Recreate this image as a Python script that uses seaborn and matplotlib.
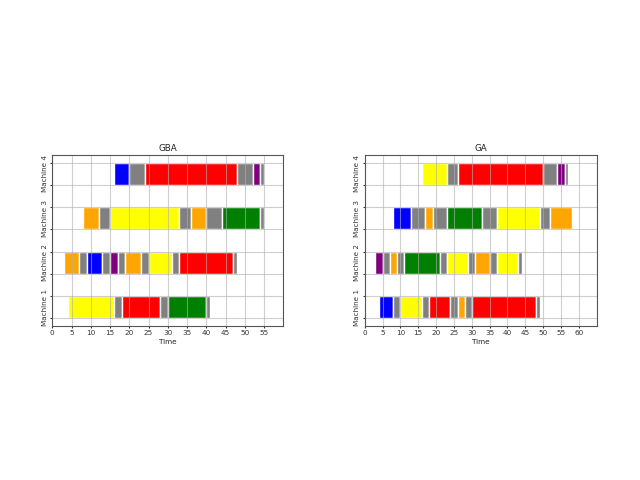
import matplotlib
matplotlib.use("Agg")
import matplotlib.pyplot as plt
import seaborn as sns

# job -> colour ("S" = setup time)
job_colors = {"J1": "blue", "J2": "red", "J3": "purple", "J4": "orange",
              "J5": "yellow", "J6": "green", "S": "gray"}

machines = ["Machine 1", "Machine 2", "Machine 3", "Machine 4"]

# (start, end, job) for every machine
gba_m1 = [(4, 16, "J5"), (16, 18, "S"), (18, 28, "J2"), (28, 30, "S"), (30, 40, "J6"), (40, 41, "S")]
gba_m2 = [(3, 7, "J4"), (7, 9, "S"), (9, 13, "J1"), (13, 15, "S"), (15, 17, "J3"), (17, 19, "S"),
          (19, 23, "J4"), (23, 25, "S"), (25, 31, "J5"), (31, 33, "S"), (33, 47, "J2"), (47, 48, "S")]
gba_m3 = [(8, 12, "J4"), (12, 15, "S"), (15, 33, "J5"), (33, 36, "S"), (36, 40, "J4"), (40, 44, "S"),
          (44, 54, "J6"), (54, 55, "S")]
gba_m4 = [(16, 20, "J1"), (20, 24, "S"), (24, 48, "J2"), (48, 52, "S"), (52, 54, "J3"), (54, 55, "S")]

ga_m1 = [(4, 8, "J1"), (8, 10, "S"), (10, 16, "J5"), (16, 18, "S"), (18, 24, "J2"), (24, 26, "S"),
         (26, 28, "J4"), (28, 30, "S"), (30, 48, "J2"), (48, 49, "S")]
ga_m2 = [(3, 5, "J3"), (5, 7, "S"), (7, 9, "J4"), (9, 11, "S"), (11, 21, "J6"), (21, 23, "S"),
         (23, 29, "J5"), (29, 31, "S"), (31, 35, "J4"), (35, 37, "S"), (37, 43, "J5"), (43, 44, "S")]
ga_m3 = [(8, 13, "J1"), (13, 17, "S"), (17, 19, "J4"), (19, 23, "S"), (23, 33, "J6"), (33, 37, "S"),
         (37, 49, "J5"), (49, 52, "S"), (52, 58, "J4")]
ga_m4 = [(16, 23, "J5"), (23, 26, "S"), (26, 50, "J2"), (50, 54, "S"), (54, 56, "J3"), (56, 57, "S")]

gba = [gba_m1, gba_m2, gba_m3, gba_m4]
ga = [ga_m1, ga_m2, ga_m3, ga_m4]

sns.set_style("ticks", {"axes.grid": True, "grid.color": "#b0b0b0", "axes.edgecolor": "#555555",
                        "axes.axisbelow": "line", "xtick.direction": "out", "ytick.direction": "out",
                        "xtick.color": "#333333", "ytick.color": "#333333", "text.color": "#222222",
                        "axes.labelcolor": "#222222"})
plt.rcParams["font.family"] = ["DejaVu Sans"]
plt.rcParams.update({"font.size": 5.2, "xtick.labelsize": 5.2, "ytick.labelsize": 5.2,
                     "axes.titlesize": 6.3, "axes.labelsize": 5.2, "axes.titlepad": 3,
                     "axes.labelpad": 2, "xtick.major.size": 1.6, "ytick.major.size": 1.6,
                     "xtick.major.pad": 1.6, "ytick.major.pad": 1.6, "grid.linewidth": 0.8,
                     "grid.alpha": 0.6, "axes.linewidth": 0.8})

fig = plt.figure(figsize=(6.4, 4.8), dpi=100)
ax1 = fig.add_axes([52.3 / 640, 1 - 326 / 480, 231 / 640, 171 / 480])
ax2 = fig.add_axes([364.7 / 640, 1 - 326 / 480, 232 / 640, 171 / 480])


def gantt(ax, sched, title, xmax):
    for i, segs in enumerate(sched):
        ax.broken_barh([(s, e - s) for s, e, j in segs], (10 * i, 5),
                       facecolors=[job_colors[j] for s, e, j in segs])
    ax.set_xlim(0, xmax)
    ax.set_xticks(range(0, xmax, 5))
    ax.set_yticks([10 * i + k for i in range(len(sched)) for k in (0, 5)])
    ax.set_yticklabels([])
    ax.set_yticks([10 * i + 2.5 for i in range(len(sched))], minor=True)
    ax.set_yticklabels(machines, minor=True, rotation=90, va="center")
    ax.tick_params(axis="y", which="minor", length=0)
    ax.grid(True, which="major")
    ax.grid(False, which="minor")
    ax.set_xlabel("Time")
    ax.set_title(title)


gantt(ax1, gba, "GBA", 60)
gantt(ax2, ga, "GA", 65)

fig.savefig("out.png", dpi=100)
